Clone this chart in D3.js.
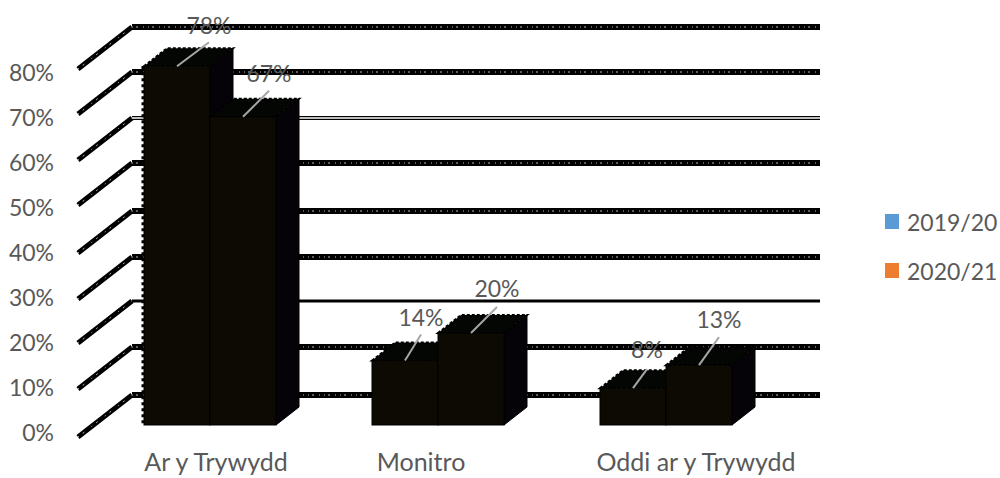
<!DOCTYPE html>
<html>
<head>
<meta charset="utf-8">
<script src="https://cdn.jsdelivr.net/npm/d3@7"></script>
<style>
  html, body { margin: 0; padding: 0; background: #fff; }
  svg { display: block; }
  text { font-family: Lato, "Open Sans", sans-serif; fill: #595959; }
</style>
</head>
<body>
<div id="chart"></div>
<script>
const categories = ["Ar y Trywydd", "Monitro", "Oddi ar y Trywydd"];
const seriesNames = ["2019/20", "2020/21"];
const values2019 = [78, 14, 8];
const values2020 = [67, 20, 13];
const yTicks = [0, 10, 20, 30, 40, 50, 60, 70, 80];
const seriesColors = ["#5b9bd5", "#ed7d31"];

const width = 1000, height = 478;
const depthX = 23, depthY = -18;

const svg = d3.select("#chart").append("svg")
  .attr("width", width)
  .attr("height", height);

// scales: one for the back wall, one for the wall's front edge, one for bars
const yBack = d3.scaleLinear().domain(yTicks).range([395, 347, 301, 257, 211, 163, 118, 72, 27]);
const yFront = d3.scaleLinear().domain(yTicks).range([437, 389, 343, 299, 253, 205, 160, 114, 69]);
const yBar = d3.scaleLinear().domain([0, 80]).range([425, 57]);
const yLabel = d3.scaleLinear().domain([0, 80]).range([433, 73]);

const xGroup = d3.scaleBand().domain(categories).range([95, 779]).paddingInner(0).paddingOuter(0);
const xSeries = d3.scaleBand().domain(seriesNames).range([49, 181]);

const wallLeft = 132, wallRight = 820, frontLeft = 78;

// grid lines
const grid = svg.append("g");
yTicks.forEach(t => {
  const thin = t === 60;
  const solid = t === 20;
  grid.append("path")
    .attr("d", `M${frontLeft},${yFront(t)}L${wallLeft},${yBack(t)}`)
    .attr("fill", "none").attr("stroke", "#000").attr("stroke-width", 5);
  grid.append("path")
    .attr("d", `M${frontLeft},${yFront(t)}L${wallLeft},${yBack(t)}`)
    .attr("fill", "none").attr("stroke", "#fff").attr("stroke-width", 1)
    .attr("stroke-dasharray", "1 5 2 9").attr("opacity", 0.7);
  grid.append("line")
    .attr("x1", wallLeft).attr("x2", wallRight)
    .attr("y1", yBack(t)).attr("y2", yBack(t))
    .attr("stroke", "#000")
    .attr("stroke-width", thin ? 4 : solid ? 3 : 6);
  if (thin) {
    grid.append("line")
      .attr("x1", wallLeft).attr("x2", wallRight)
      .attr("y1", yBack(t)).attr("y2", yBack(t))
      .attr("stroke", "#fff").attr("stroke-width", 1.5);
  } else if (!solid) {
    grid.append("line")
      .attr("x1", wallLeft).attr("x2", wallRight)
      .attr("y1", yBack(t)).attr("y2", yBack(t))
      .attr("stroke", "#fff").attr("stroke-width", 1)
      .attr("stroke-dasharray", "1 3 2 5 1 4").attr("opacity", 0.75);
  }
});

// 3d bars, first series first so the second one sits over its side face
const bars = svg.append("g");
const leaders = svg.append("g");
const labelDx = [[32, 26], [16, 26], [14, 20]];
const leaderDy = [[-24, -26], [-26, -26], [-19, -28]];
const labelGap = [[-17, -18], [-18, -19], [-20, -18]];

[values2019, values2020].forEach((vals, s) => {
  vals.forEach((v, i) => {
    const x0 = xGroup(categories[i]) + xSeries(seriesNames[s]);
    const x1 = x0 + xSeries.bandwidth();
    const top = yBar(v), bottom = yBar(0);

    bars.append("path") // side
      .attr("d", `M${x1},${top}L${x1 + depthX},${top + depthY}L${x1 + depthX},${bottom + depthY}L${x1},${bottom}Z`)
      .attr("fill", "#050308").attr("stroke", "#000").attr("stroke-width", 1);
    bars.append("path") // top
      .attr("d", `M${x0},${top}L${x0 + depthX},${top + depthY}L${x1 + depthX},${top + depthY}L${x1},${top}Z`)
      .attr("fill", "#040604").attr("stroke", "#000").attr("stroke-width", 2)
      .attr("stroke-dasharray", "3 2");
    bars.append("rect") // front
      .attr("x", x0).attr("y", top)
      .attr("width", x1 - x0).attr("height", bottom - top)
      .attr("fill", "#0c0a03").attr("stroke", "#000").attr("stroke-width", 1);

    const cx = (x0 + x1) / 2;
    const lx = cx + labelDx[i][s], ly = top + leaderDy[i][s];
    leaders.append("line")
      .attr("x1", cx).attr("y1", top)
      .attr("x2", lx).attr("y2", ly)
      .attr("stroke", "#a6a6a6").attr("stroke-width", 2);
    leaders.append("text")
      .attr("x", lx).attr("y", ly + labelGap[i][s])
      .attr("text-anchor", "middle").attr("dominant-baseline", "central")
      .attr("font-size", 23)
      .text(v + "%");
  });
});

// dotted notches on the left edge of the first bar
bars.append("line")
  .attr("x1", xGroup(categories[0]) + xSeries(seriesNames[0]) - 1)
  .attr("x2", xGroup(categories[0]) + xSeries(seriesNames[0]) - 1)
  .attr("y1", yBar(78)).attr("y2", yBar(0))
  .attr("stroke", "#000").attr("stroke-width", 3).attr("stroke-dasharray", "3 3");

// axes
const yAxis = svg.append("g")
  .attr("transform", "translate(54,0)")
  .call(d3.axisLeft(yLabel).tickValues(yTicks).tickFormat(d => d + "%").tickSize(0).tickPadding(0));
yAxis.select(".domain").remove();
yAxis.selectAll("text").attr("font-size", 23).style("fill", "#595959").style("font-family", "Lato");

const catDx = [7, -16, 31];
const xAxis = svg.append("g")
  .attr("transform", "translate(0,453)")
  .call(d3.axisBottom(xGroup).tickSize(0).tickPadding(0));
xAxis.select(".domain").remove();
xAxis.selectAll("text")
  .attr("font-size", 25).attr("dx", (d, i) => catDx[i])
  .style("fill", "#595959").style("font-family", "Lato");

// legend
const legendY = d3.scalePoint().domain(seriesNames).range([222, 271]);
const legend = svg.append("g");
seriesNames.forEach((name, i) => {
  legend.append("rect")
    .attr("x", 885).attr("y", legendY(name) - 8)
    .attr("width", 14).attr("height", 15)
    .attr("fill", seriesColors[i]);
  legend.append("text")
    .attr("x", 907).attr("y", legendY(name))
    .attr("dominant-baseline", "central")
    .attr("font-size", 23)
    .text(name);
});
</script>
</body>
</html>
